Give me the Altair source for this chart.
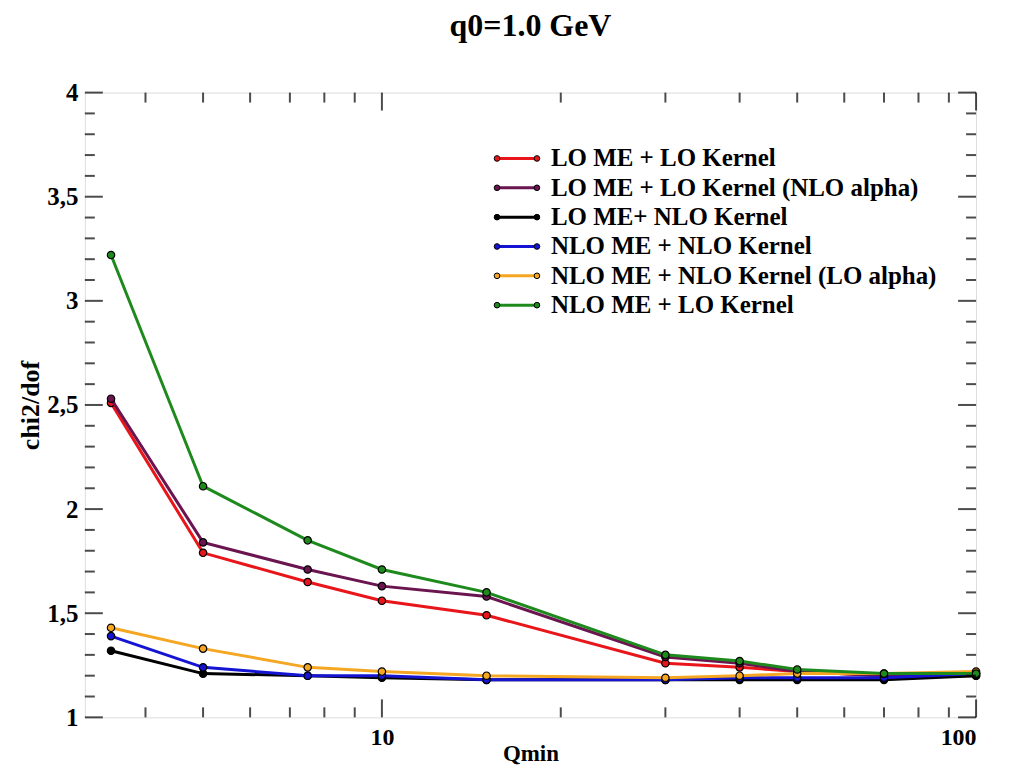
import altair as alt
import pandas as pd

# ---- data ----
qmin = [3.5, 5, 7.5, 10, 15, 30, 40, 50, 70, 100]
series_names = [
    "LO ME + LO Kernel",
    "LO ME + LO Kernel (NLO alpha)",
    "LO ME+ NLO Kernel",
    "NLO ME + NLO Kernel",
    "NLO ME + NLO Kernel (LO alpha)",
    "NLO ME + LO Kernel",
]
red_vals = [2.51, 1.79, 1.65, 1.56, 1.49, 1.26, 1.24, 1.22, 1.20, 1.21]
purple_vals = [2.53, 1.84, 1.71, 1.63, 1.58, 1.29, 1.26, 1.22, 1.20, 1.20]
black_vals = [1.32, 1.21, 1.20, 1.19, 1.18, 1.18, 1.18, 1.18, 1.18, 1.20]
blue_vals = [1.39, 1.24, 1.20, 1.20, 1.18, 1.18, 1.19, 1.19, 1.19, 1.21]
orange_vals = [1.43, 1.33, 1.24, 1.22, 1.20, 1.19, 1.20, 1.21, 1.21, 1.22]
green_vals = [3.22, 2.11, 1.85, 1.71, 1.60, 1.30, 1.27, 1.23, 1.21, 1.21]
series_values = [red_vals, purple_vals, black_vals, blue_vals, orange_vals, green_vals]
series_colors = ["#e8161b", "#6a1450", "#000000", "#1414d2", "#f5a623", "#1e8a1e"]

y_major = [1.0, 1.5, 2.0, 2.5, 3.0, 3.5, 4.0]
y_minor = [1.1, 1.2, 1.3, 1.4, 1.6, 1.7, 1.8, 1.9, 2.1, 2.2, 2.3, 2.4,
           2.6, 2.7, 2.8, 2.9, 3.1, 3.2, 3.3, 3.4, 3.6, 3.7, 3.8, 3.9]
x_major = [10, 100]
x_minor = [4, 5, 6, 7, 8, 9, 20, 30, 40, 50, 60, 70, 80, 90]

W, H = 893, 626
FONT = "Liberation Serif"

xscale = alt.Scale(type="log", domain=[3.1623, 100])
yscale = alt.Scale(domain=[1, 4])

xaxis = alt.Axis(values=x_major, format="d", ticks=False, domain=False, grid=False,
                 labelFont=FONT, labelFontWeight="bold", labelFontSize=24,
                 labelColor="black", labelPadding=8,
                 title="Qmin", titleFont=FONT, titleFontWeight="bold", titleFontSize=23,
                 titleColor="black", titleY=43, titleBaseline="alphabetic")
yaxis = alt.Axis(values=y_major, labelExpr="replace(toString(datum.value), '.', ',')",
                 ticks=False, domain=False, grid=False,
                 labelFont=FONT, labelFontWeight="bold", labelFontSize=25,
                 labelColor="black", labelPadding=7,
                 title="chi2/dof", titleFont=FONT, titleFontWeight="bold", titleFontSize=26,
                 titleColor="black", titleX=-54, titleY=H / 2, titleBaseline="middle")

layers = []
for name, vals, col in zip(series_names, series_values, series_colors):
    df = pd.DataFrame({"qmin": qmin, "chi2": vals, "series": name})
    base = alt.Chart(df).encode(
        x=alt.X("qmin:Q", scale=xscale, axis=xaxis),
        y=alt.Y("chi2:Q", scale=yscale, axis=yaxis),
    )
    layers.append(base.mark_line(color=col, strokeWidth=3))
    layers.append(base.mark_point(filled=True, fill=col, stroke="black",
                                  strokeWidth=1.2, size=55, opacity=1, shape="circle"))

# axis ticks (inside the frame, on all four sides)
ymaj = pd.DataFrame({"v": y_major})
ymin = pd.DataFrame({"v": y_minor})
xmaj = pd.DataFrame({"v": x_major})
xmin = pd.DataFrame({"v": x_minor})

def ytick(df, xpos, size):
    return alt.Chart(df).mark_tick(orient="horizontal", color="black", thickness=2,
                                   size=size).encode(
        y=alt.Y("v:Q", scale=yscale), x=alt.value(xpos))

def xtick(df, ypos, size):
    return alt.Chart(df).mark_tick(orient="vertical", color="black", thickness=2,
                                   size=size).encode(
        x=alt.X("v:Q", scale=xscale), y=alt.value(ypos))

layers += [
    ytick(ymaj, 9, 18), ytick(ymin, 5, 10),
    ytick(ymaj, W - 9, 18), ytick(ymin, W - 5, 10),
    xtick(xmaj, H - 9, 18), xtick(xmin, H - 5, 10),
    xtick(xmaj, 9, 18), xtick(xmin, 5, 10),
]

main = alt.layer(*layers)

# legend drawn inside the plot
leg_df = pd.DataFrame({"label": series_names, "col": series_colors})
leg_y = alt.Y("label:N", sort=series_names, axis=None,
              scale=alt.Scale(type="point", domain=series_names, range=[66, 213], padding=0))
leg_color = alt.Color("label:N", scale=alt.Scale(domain=series_names, range=series_colors),
                      legend=None)
leg_base = alt.Chart(leg_df)
leg_line = leg_base.mark_rule(strokeWidth=3).encode(
    y=leg_y, x=alt.value(413), x2=alt.value(453), color=leg_color)
leg_p1 = leg_base.mark_point(filled=True, stroke="black", strokeWidth=1, size=32,
                             opacity=1).encode(y=leg_y, x=alt.value(413), fill=leg_color)
leg_p2 = leg_base.mark_point(filled=True, stroke="black", strokeWidth=1, size=32,
                             opacity=1).encode(y=leg_y, x=alt.value(453), fill=leg_color)
leg_text = leg_base.mark_text(align="left", baseline="middle", font=FONT,
                              fontWeight="bold", fontSize=25, color="black").encode(
    y=leg_y, x=alt.value(467), text="label:N")
legend = alt.layer(leg_line, leg_p1, leg_p2, leg_text)

chart = alt.layer(main, legend).resolve_scale(y="independent", color="independent",
                                               fill="independent").properties(
    width=W, height=H,
    autosize="none",
    padding={"left": 77, "top": 84, "right": 30, "bottom": 50},
    title=alt.Title("q0=1.0 GeV", font=FONT, fontSize=32, fontWeight="bold",
                    color="black", anchor="middle", baseline="alphabetic", offset=13),
).configure_view(stroke="black", strokeWidth=2.5).configure(background="white")

chart.save("out.html", embed_options={"renderer": "svg", "actions": False})
